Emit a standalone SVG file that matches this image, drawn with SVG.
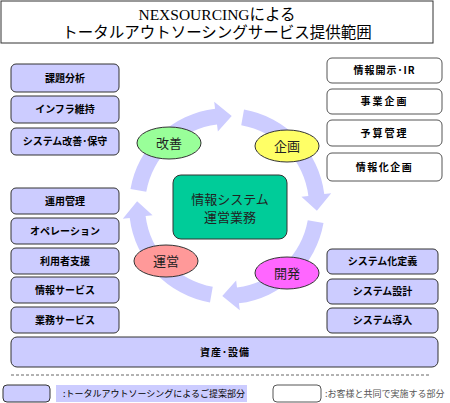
<svg xmlns="http://www.w3.org/2000/svg" xmlns:xlink="http://www.w3.org/1999/xlink" width="450" height="403" viewBox="0 0 450 403">
<defs>
<style>
.t{font-family:"Liberation Serif","Noto Sans CJK JP",serif;font-size:15.5px;fill:#000;text-anchor:middle}
.bx{fill:#CCCCFF;stroke:#333;stroke-width:1}
.wb{fill:#fff;stroke:#555;stroke-width:1}
.lb{font-family:"Noto Sans CJK JP","Noto Sans CJK SC",sans-serif;font-size:10px;font-weight:bold;fill:#000;text-anchor:middle}
.ov{font-family:"Noto Sans CJK JP",sans-serif;font-size:13px;fill:#222;text-anchor:middle}
.el{stroke:#333;stroke-width:1}
.lg{font-family:"Noto Sans CJK JP",sans-serif;font-size:9px;fill:#000}
.arw{fill:#CCCCFF}
</style>
<path id="arc" d="M130.49,188.99 A98,98 0 0 1 215.06,108.73 L214.20,101.79 L231.71,116.12 L217.86,131.56 L217.00,124.61 A82,82 0 0 0 146.25,191.76 Z"/>
</defs>
<rect width="450" height="403" fill="#fff"/>
<g id="title">
<rect x="1" y="1" width="432" height="42" fill="#fff" stroke="#333" stroke-width="1"/>
<text class="t" x="217" y="20" font-size="14.5">NEXSOURCINGによる</text>
<text class="t" x="217" y="38">トータルアウトソーシングサービス提供範囲</text>
</g>
<g id="connectors">
<use xlink:href="#arc" class="arw"/>
<use xlink:href="#arc" class="arw" transform="rotate(90 227 206)"/>
<use xlink:href="#arc" class="arw" transform="rotate(180 227 206)"/>
<use xlink:href="#arc" class="arw" transform="rotate(270 227 206)"/>
</g>
<g id="left-top">
<g id="n-kadai"><rect class="bx" x="11" y="64" width="108" height="28" rx="5"/><text class="lb" x="65" y="81.5">課題分析</text></g>
<g id="n-infra"><rect class="bx" x="11" y="96" width="108" height="27" rx="5"/><text class="lb" x="65" y="113">インフラ維持</text></g>
<g id="n-kaizen-hosyu"><rect class="bx" x="11" y="128" width="108" height="27" rx="5"/><text class="lb" x="65" y="145">システム改善･保守</text></g>
</g>
<g id="left-bottom">
<g id="n-unyo"><rect class="bx" x="11" y="188" width="108" height="26" rx="5"/><text class="lb" x="65" y="204.5">運用管理</text></g>
<g id="n-op"><rect class="bx" x="11" y="218" width="108" height="26" rx="5"/><text class="lb" x="65" y="234.5">オペレーション</text></g>
<g id="n-riyo"><rect class="bx" x="11" y="248" width="108" height="26" rx="5"/><text class="lb" x="65" y="264.5">利用者支援</text></g>
<g id="n-joho"><rect class="bx" x="11" y="277" width="108" height="26" rx="5"/><text class="lb" x="65" y="293.5">情報サービス</text></g>
<g id="n-gyomu"><rect class="bx" x="11" y="307" width="108" height="26" rx="5"/><text class="lb" x="65" y="323.5">業務サービス</text></g>
</g>
<g id="right-top">
<g id="n-ir"><rect class="wb" x="327" y="58" width="115" height="25" rx="5"/><text class="lb" x="384.5" y="74" letter-spacing="1">情報開示･IR</text></g>
<g id="n-jigyo"><rect class="wb" x="327" y="89" width="115" height="25" rx="5"/><text class="lb" x="384.5" y="105" letter-spacing="2">事業企画</text></g>
<g id="n-yosan"><rect class="wb" x="327" y="120" width="115" height="26" rx="5"/><text class="lb" x="384.5" y="136.5" letter-spacing="2">予算管理</text></g>
<g id="n-johoka"><rect class="wb" x="327" y="153" width="115" height="28" rx="5"/><text class="lb" x="384.5" y="170.5" letter-spacing="1.5">情報化企画</text></g>
</g>
<g id="right-bottom">
<g id="n-teigi"><rect class="bx" x="327" y="249" width="111" height="25" rx="5"/><text class="lb" x="382.5" y="265">システム化定義</text></g>
<g id="n-sekkei"><rect class="bx" x="327" y="279" width="111" height="25" rx="5"/><text class="lb" x="382.5" y="295">システム設計</text></g>
<g id="n-donyu"><rect class="bx" x="327" y="308" width="111" height="25" rx="5"/><text class="lb" x="382.5" y="324">システム導入</text></g>
</g>
<g id="n-shisan"><rect class="bx" x="11" y="337" width="427" height="30" rx="6"/><text class="lb" x="225" y="355.5" letter-spacing="1">資産･設備</text></g>
<g id="n-center"><rect x="173" y="175" width="114" height="64" rx="8" fill="#00CC99" stroke="#333" stroke-width="1"/><text class="ov" x="230" y="203.5">情報システム</text><text class="ov" x="230" y="221.5">運営業務</text></g>
<g id="n-kaizen"><ellipse class="el" cx="169" cy="143" rx="32" ry="16" fill="#99FF99"/><text class="ov" x="169" y="147.5">改善</text></g>
<g id="n-kikaku"><ellipse class="el" cx="287" cy="146" rx="32" ry="16" fill="#FFFF66"/><text class="ov" x="287" y="150.5">企画</text></g>
<g id="n-unei"><ellipse class="el" cx="166" cy="261" rx="32" ry="16" fill="#FF9999"/><text class="ov" x="166" y="265.5">運営</text></g>
<g id="n-kaihatsu"><ellipse class="el" cx="287" cy="273" rx="32" ry="16" fill="#FF66FF"/><text class="ov" x="287" y="277.5">開発</text></g>
<g id="legend">
<line x1="11" y1="375" x2="430" y2="375" stroke="#666" stroke-width="1" stroke-dasharray="3,2"/>
<rect class="bx" x="3" y="385" width="47" height="17" rx="4"/>
<rect x="56" y="385" width="191" height="17" fill="#CCCCFF"/>
<text class="lg" x="63" y="397">:トータルアウトソーシングによるご提案部分</text>
<rect class="wb" x="273" y="385" width="48" height="17" rx="4"/>
<text class="lg" x="325" y="397" fill="#555" style="fill:#555">:お客様と共同で実施する部分</text>
</g>
</svg>
